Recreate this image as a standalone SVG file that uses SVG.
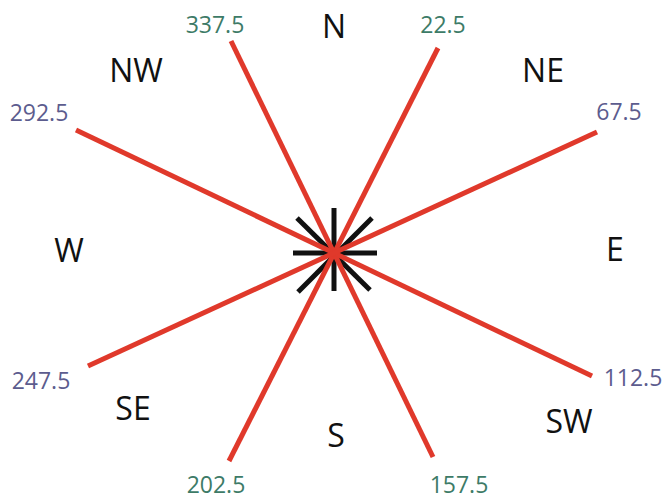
<svg xmlns="http://www.w3.org/2000/svg" width="666" height="502" viewBox="0 0 666 502">
<style>
.dir{font-family:"Open Sans","Liberation Sans",sans-serif;font-size:32px;fill:#111;text-anchor:middle}
.deg{font-family:"Open Sans","Liberation Sans",sans-serif;font-size:23px;text-anchor:middle}
.g{fill:#3d7b67}
.b{fill:#5c5c8e}
.star line{stroke:#111;stroke-width:5;stroke-linecap:butt}
.ray line{stroke:#e0392b;stroke-width:5;stroke-linecap:butt}
</style>
<rect width="666" height="502" fill="#ffffff"/>
<g id="star" class="star">
<line x1="334" y1="208" x2="334" y2="291"/>
<line x1="293" y1="253" x2="377" y2="253"/>
<line x1="297" y1="218" x2="370" y2="290"/>
<line x1="372" y1="218" x2="298" y2="292"/>
</g>
<g id="connectors" class="ray">
<line x1="438" y1="48" x2="229" y2="461"/>
<line x1="231" y1="41" x2="433" y2="457"/>
<line x1="76" y1="130" x2="592" y2="376"/>
<line x1="597" y1="132" x2="88" y2="366"/>
</g>
<g id="N"><text class="dir" x="334" y="38">N</text></g>
<g id="NW"><text class="dir" x="136" y="82">NW</text></g>
<g id="NE"><text class="dir" x="543" y="82">NE</text></g>
<g id="W"><text class="dir" x="69" y="262">W</text></g>
<g id="E"><text class="dir" x="615" y="261">E</text></g>
<g id="SE"><text class="dir" x="133" y="420">SE</text></g>
<g id="S"><text class="dir" x="336" y="447">S</text></g>
<g id="SW"><text class="dir" x="569" y="433">SW</text></g>
<g id="d337"><text class="deg g" x="215" y="33">337.5</text></g>
<g id="d22"><text class="deg g" x="443" y="33">22.5</text></g>
<g id="d292"><text class="deg b" x="39" y="121">292.5</text></g>
<g id="d67"><text class="deg b" x="619" y="120">67.5</text></g>
<g id="d247"><text class="deg b" x="41" y="389">247.5</text></g>
<g id="d112"><text class="deg b" x="633" y="386">112.5</text></g>
<g id="d202"><text class="deg g" x="216" y="493">202.5</text></g>
<g id="d157"><text class="deg g" x="459" y="493">157.5</text></g>
</svg>
